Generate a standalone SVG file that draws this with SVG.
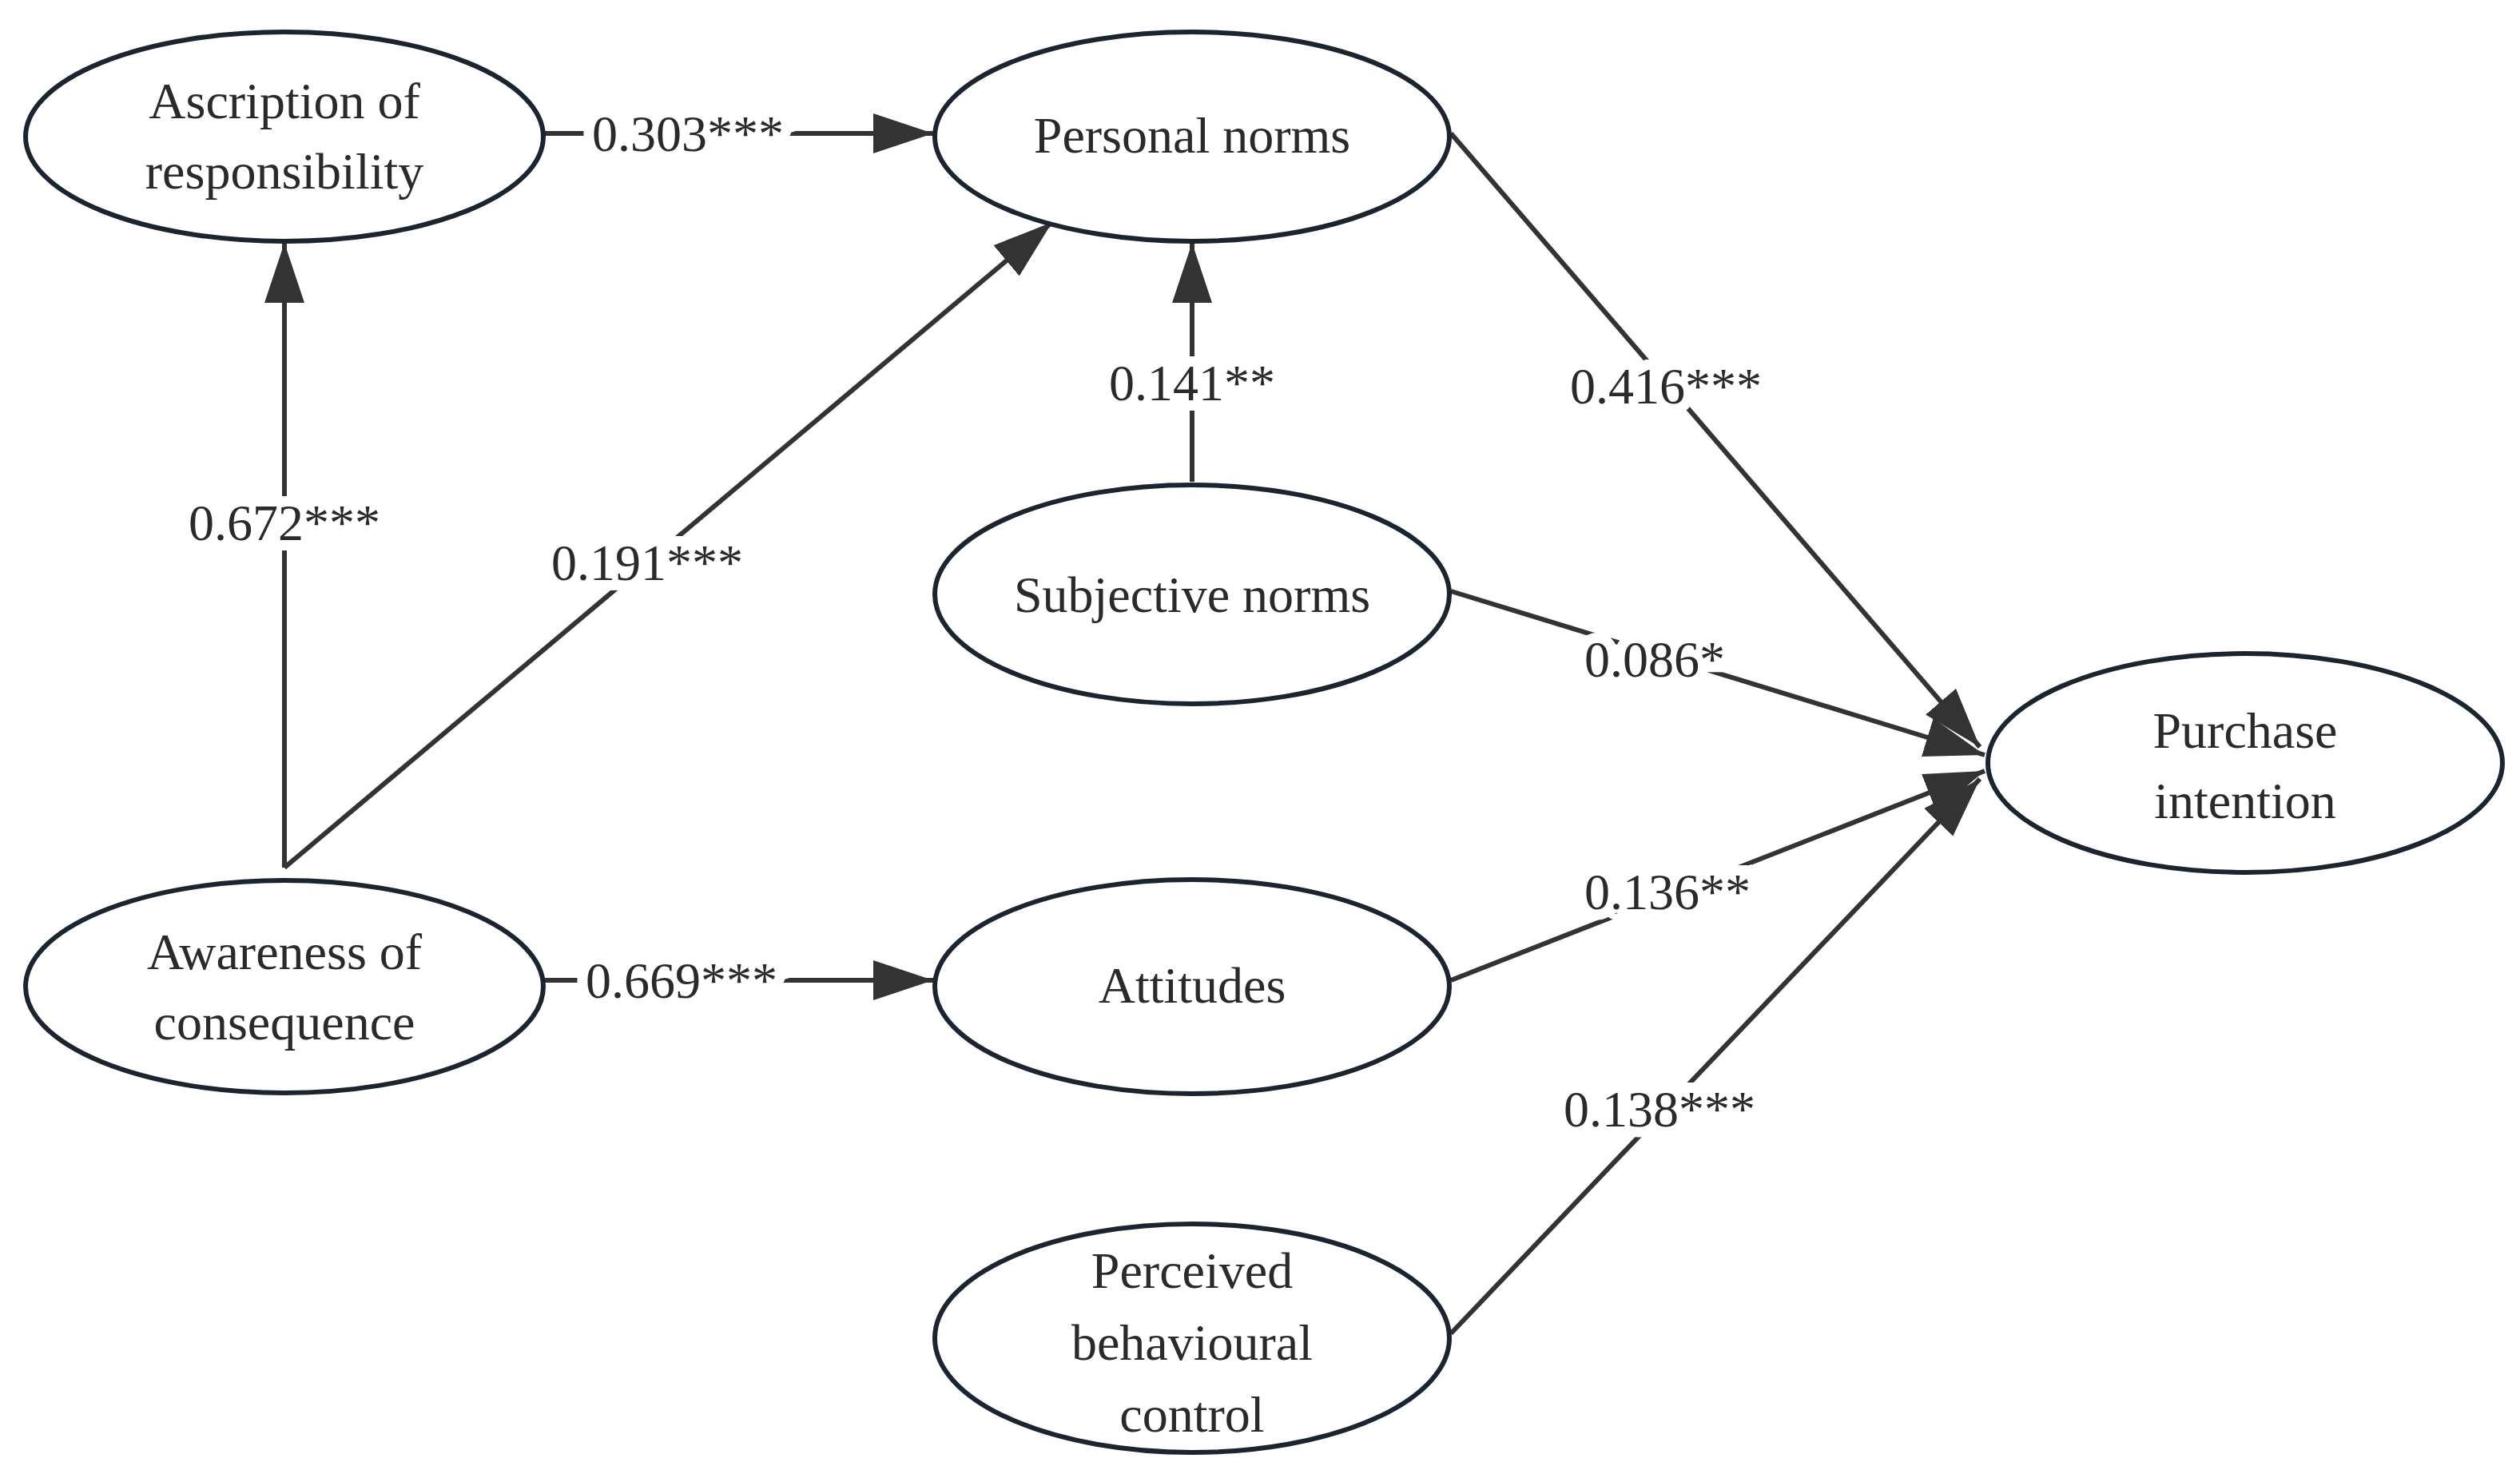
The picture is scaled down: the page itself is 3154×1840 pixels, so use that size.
<svg xmlns="http://www.w3.org/2000/svg" width="3154" height="1840" viewBox="0 0 3154 1840">
<style>
.n ellipse{fill:#fff;stroke:#1a2530;stroke-width:6}
.n text,.lab{font-family:"Liberation Serif",serif;font-size:64px;fill:#2a2a2a;text-anchor:middle;dominant-baseline:central}
.lab{paint-order:stroke;stroke:#fff;stroke-width:26px}
.c line{stroke:#333;stroke-width:6}
</style>
<defs>
<marker id="a" markerUnits="userSpaceOnUse" markerWidth="80" markerHeight="60" refX="75" refY="25" orient="auto"><path d="M0,0L75,25L0,50Z" fill="#333"/></marker>
</defs>
<rect width="3154" height="1840" fill="#fff"/>
<g class="c">
<line x1="680" y1="167" x2="1168" y2="167" marker-end="url(#a)"/>
<line x1="356" y1="1086" x2="356" y2="304" marker-end="url(#a)"/>
<line x1="356" y1="1086" x2="1317" y2="278" marker-end="url(#a)"/>
<line x1="1492" y1="603" x2="1492" y2="304" marker-end="url(#a)"/>
<line x1="1816" y1="167" x2="2478" y2="935" marker-end="url(#a)"/>
<line x1="1816" y1="740" x2="2484" y2="945" marker-end="url(#a)"/>
<line x1="1816" y1="1227" x2="2484" y2="965" marker-end="url(#a)"/>
<line x1="1816" y1="1669" x2="2478" y2="975" marker-end="url(#a)"/>
<line x1="680" y1="1227" x2="1168" y2="1227" marker-end="url(#a)"/>
<text class="lab" x="861" y="167">0.303***</text>
<text class="lab" x="356" y="654">0.672***</text>
<text class="lab" x="810" y="704">0.191***</text>
<text class="lab" x="1492" y="479">0.141**</text>
<text class="lab" x="2085" y="483">0.416***</text>
<text class="lab" x="2071" y="825">0.086*</text>
<text class="lab" x="2087" y="1116">0.136**</text>
<text class="lab" x="2077" y="1388">0.138***</text>
<text class="lab" x="853" y="1227">0.669***</text>
</g>
<g id="ascription" class="n"><ellipse cx="356" cy="171" rx="324" ry="131"/><text x="356" y="126">Ascription of</text><text x="356" y="214">responsibility</text></g>
<g id="personal" class="n"><ellipse cx="1492" cy="171" rx="322" ry="131"/><text x="1492" y="169">Personal norms</text></g>
<g id="subjective" class="n"><ellipse cx="1492" cy="744" rx="322" ry="137"/><text x="1492" y="744">Subjective norms</text></g>
<g id="purchase" class="n"><ellipse cx="2810" cy="955" rx="322" ry="137"/><text x="2810" y="914">Purchase</text><text x="2810" y="1002">intention</text></g>
<g id="awareness" class="n"><ellipse cx="356" cy="1235" rx="324" ry="133"/><text x="356" y="1191">Awareness of</text><text x="356" y="1279">consequence</text></g>
<g id="attitudes" class="n"><ellipse cx="1492" cy="1235" rx="322" ry="134"/><text x="1492" y="1233">Attitudes</text></g>
<g id="pbc" class="n"><ellipse cx="1492" cy="1675" rx="322" ry="143"/><text x="1492" y="1590">Perceived</text><text x="1492" y="1680">behavioural</text><text x="1492" y="1770">control</text></g>
</svg>
